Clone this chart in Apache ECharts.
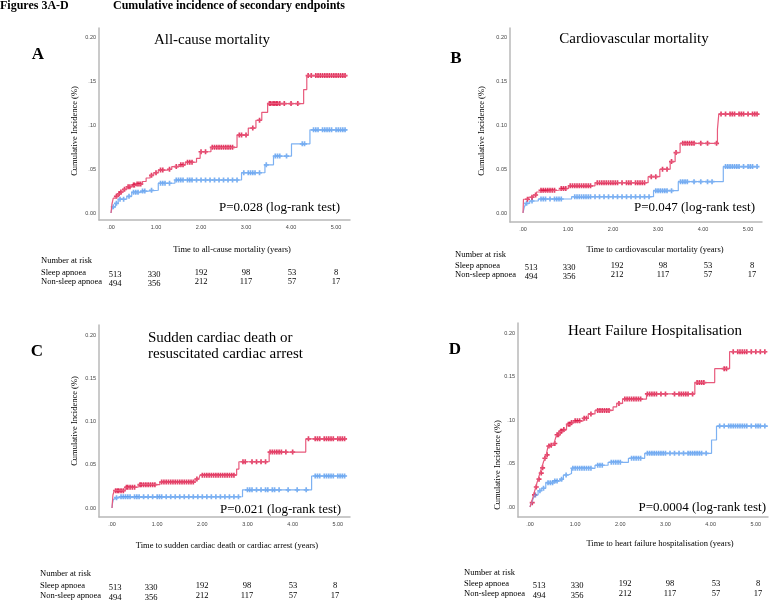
<!DOCTYPE html>
<html>
<head>
<meta charset="utf-8">
<script src="https://cdn.jsdelivr.net/npm/echarts@6/dist/echarts.min.js"></script>
<style>html,body{margin:0;padding:0;background:#fff}#main{width:771px;height:601px}</style>
</head>
<body>
<div id="main"></div>
<script>
var myChart = echarts.init(document.getElementById('main'));

// ---- data (time in years, cumulative incidence) ----
// A: all-cause mortality
var aRedT = [0, 0.02, 0.05, 0.1, 0.15, 0.2, 0.27, 0.35, 0.45, 0.55, 0.7, 0.78, 0.87, 0.95, 1.05, 1.25, 1.35, 1.5, 1.65, 1.9, 1.98, 2.22, 2.8, 3.05, 3.22, 3.35, 3.48, 4.28, 4.35, 5.24];
var aRedY = [0, 0.010, 0.017, 0.019, 0.022, 0.024, 0.027, 0.030, 0.032, 0.033, 0.036, 0.040, 0.043, 0.046, 0.049, 0.050, 0.053, 0.055, 0.058, 0.0625, 0.070, 0.075, 0.089, 0.097, 0.106, 0.115, 0.125, 0.141, 0.157, 0.157];
var aBlueT = [0, 0.01, 0.04, 0.1, 0.16, 0.35, 0.46, 0.64, 0.83, 1.05, 1.42, 2.9, 3.42, 3.61, 4.01, 4.42, 5.24];
var aBlueY = [0, 0.003, 0.007, 0.011, 0.0157, 0.019, 0.0236, 0.025, 0.026, 0.034, 0.0377, 0.046, 0.055, 0.065, 0.079, 0.095, 0.095];
var aRedC = [0.12,0.18,0.22,0.3,0.38,0.42,0.5,0.52,0.58,0.62,0.66,0.9,1.0,1.1,1.15,1.3,1.45,1.55,1.6,1.7,1.75,1.8,2.0,2.1,2.25,2.3,2.35,2.4,2.45,2.5,2.55,2.6,2.65,2.7,2.85,2.9,3.0,3.15,3.3,3.52,3.55,3.6,3.63,3.67,3.7,3.75,3.85,4.0,4.15,4.38,4.45,4.55,4.6,4.65,4.7,4.75,4.8,4.85,4.9,4.95,5.0,5.05,5.1,5.15,5.2];
var aBlueC = [0.05,0.12,0.2,0.28,0.4,0.5,0.55,0.6,0.7,0.75,0.9,1.1,1.15,1.2,1.3,1.45,1.5,1.55,1.6,1.7,1.75,1.8,1.9,2.0,2.1,2.2,2.3,2.4,2.5,2.6,2.7,2.8,2.95,3.05,3.1,3.15,3.2,3.3,3.45,3.65,3.7,3.75,3.9,4.25,4.3,4.5,4.55,4.6,4.7,4.75,4.8,4.85,4.9,5.0,5.05,5.1,5.15,5.2];

// B: cardiovascular mortality
var bRedT = [0, 0.01, 0.12, 0.23, 0.3, 0.37, 0.78, 1.01, 1.6, 2.78, 3.04, 3.27, 3.38, 3.49, 4.32, 4.35, 5.23];
var bRedY = [0, 0.0157, 0.018, 0.0206, 0.024, 0.026, 0.028, 0.031, 0.0346, 0.0415, 0.050, 0.0587, 0.069, 0.0796, 0.0956, 0.113, 0.113];
var bBlueT = [0, 0.03, 0.07, 0.15, 0.34, 1.08, 2.9, 3.45, 4.45, 5.23];
var bBlueY = [0, 0.007, 0.011, 0.0137, 0.016, 0.0186, 0.0255, 0.0358, 0.053, 0.053];
var bRedC = [0.1,0.2,0.28,0.4,0.45,0.5,0.55,0.6,0.65,0.7,0.85,0.9,0.95,1.05,1.1,1.15,1.2,1.25,1.3,1.35,1.4,1.45,1.5,1.65,1.7,1.75,1.8,1.85,1.9,1.95,2.0,2.05,2.1,2.2,2.3,2.35,2.4,2.5,2.55,2.6,2.65,2.7,2.85,2.95,3.1,3.2,3.3,3.4,3.55,3.6,3.65,3.7,3.75,3.8,3.95,4.1,4.3,4.4,4.5,4.6,4.65,4.7,4.8,4.85,4.9,5.0,5.1,5.15,5.2];
var bBlueC = [0.08,0.2,0.4,0.45,0.5,0.6,0.7,0.75,0.8,0.85,1.15,1.2,1.25,1.3,1.35,1.4,1.45,1.5,1.6,1.7,1.8,1.9,2.0,2.1,2.2,2.3,2.4,2.5,2.6,2.7,2.8,2.95,3.0,3.05,3.1,3.15,3.2,3.3,3.5,3.55,3.6,3.65,3.8,3.95,4.1,4.2,4.5,4.55,4.6,4.65,4.7,4.75,4.8,4.9,5.0,5.05,5.1,5.2];

// C: sudden cardiac death or resuscitated cardiac arrest
var cRedT = [0, 0.02, 0.05, 0.29, 0.58, 1.06, 1.84, 1.92, 1.95, 2.76, 2.81, 3.48, 4.29, 5.19];
var cRedY = [0, 0.015, 0.020, 0.024, 0.027, 0.030, 0.0335, 0.035, 0.038, 0.045, 0.0535, 0.0647, 0.080, 0.080];
var cBlueT = [0, 0.01, 0.03, 0.06, 0.14, 2.89, 4.42, 5.19];
var cBlueY = [0, 0.005, 0.010, 0.012, 0.013, 0.021, 0.037, 0.037];
var cRedC = [0.08,0.12,0.15,0.2,0.25,0.32,0.35,0.4,0.45,0.5,0.62,0.65,0.7,0.75,0.8,0.85,0.9,0.95,1.1,1.15,1.2,1.25,1.3,1.35,1.4,1.45,1.5,1.55,1.6,1.65,1.7,1.75,1.8,1.88,2.0,2.05,2.1,2.15,2.2,2.25,2.3,2.35,2.4,2.45,2.5,2.55,2.6,2.65,2.7,2.9,2.95,3.1,3.2,3.3,3.4,3.5,3.55,3.6,3.65,3.7,3.75,3.85,4.0,4.35,4.5,4.55,4.6,4.7,4.75,4.8,4.85,4.9,5.0,5.05,5.1,5.15];
var cBlueC = [0.1,0.2,0.25,0.3,0.35,0.4,0.5,0.55,0.6,0.7,0.8,0.9,1.0,1.05,1.1,1.2,1.3,1.4,1.5,1.6,1.7,1.8,1.9,2.0,2.1,2.2,2.3,2.4,2.5,2.6,2.7,2.8,3.0,3.05,3.1,3.2,3.3,3.4,3.45,3.55,3.6,3.7,3.9,4.1,4.3,4.5,4.55,4.6,4.7,4.75,4.8,4.85,4.9,5.0,5.05,5.1,5.15];

// D: heart failure hospitalisation
var dRedT = [0, 0.03, 0.06, 0.08, 0.11, 0.13, 0.15, 0.18, 0.22, 0.26, 0.30, 0.33, 0.36, 0.40, 0.45, 0.52, 0.56, 0.59, 0.66, 0.75, 0.81, 0.9, 0.96, 1.18, 1.29, 1.44, 1.84, 1.92, 2.05, 2.58, 3.65, 4.09, 4.42, 5.24];
var dRedY = [0, 0.005, 0.010, 0.014, 0.0195, 0.023, 0.027, 0.032, 0.039, 0.045, 0.052, 0.056, 0.060, 0.070, 0.071, 0.073, 0.078, 0.083, 0.087, 0.089, 0.095, 0.097, 0.099, 0.102, 0.107, 0.111, 0.115, 0.119, 0.124, 0.130, 0.143, 0.159, 0.1785, 0.1785];
var dBlueT = [0, 0.03, 0.06, 0.1, 0.18, 0.26, 0.35, 0.52, 0.66, 0.74, 0.85, 0.92, 1.44, 1.73, 2.18, 2.54, 4.02, 4.13, 5.27];
var dBlueY = [0, 0.004, 0.008, 0.0138, 0.0187, 0.0215, 0.028, 0.030, 0.032, 0.0368, 0.0385, 0.0445, 0.048, 0.0514, 0.056, 0.0617, 0.077, 0.093, 0.093];
var dRedC = [0.05,0.1,0.14,0.2,0.25,0.28,0.33,0.38,0.42,0.47,0.55,0.6,0.63,0.68,0.7,0.75,0.85,0.88,0.92,1.0,1.05,1.1,1.2,1.25,1.35,1.5,1.55,1.6,1.65,1.7,1.75,1.97,2.1,2.15,2.2,2.25,2.3,2.35,2.4,2.45,2.6,2.65,2.7,2.75,2.8,2.9,3.0,3.2,3.3,3.35,3.4,3.45,3.5,3.6,3.7,3.75,3.8,3.85,4.3,4.35,4.5,4.6,4.65,4.7,4.75,4.8,4.9,5.0,5.1,5.2];
var dBlueC = [0.12,0.22,0.3,0.4,0.45,0.5,0.55,0.6,0.7,0.8,0.95,1.0,1.05,1.1,1.15,1.2,1.25,1.3,1.35,1.5,1.55,1.6,1.8,1.85,1.9,1.95,2.0,2.25,2.3,2.35,2.4,2.45,2.6,2.65,2.7,2.75,2.8,2.85,2.9,2.95,3.0,3.1,3.2,3.3,3.4,3.5,3.55,3.6,3.65,3.7,3.75,3.8,3.9,4.2,4.3,4.4,4.45,4.5,4.55,4.6,4.65,4.7,4.75,4.8,4.9,5.0,5.05,5.1,5.2];

// number at risk (same in every panel)
var riskSleep = [513, 330, 192, 98, 53, 8];
var riskNon = [494, 356, 212, 117, 57, 17];

var xTicks = [0, 1, 2, 3, 4, 5];
var yTicks = [0, 0.05, 0.10, 0.15, 0.20];
var yTickLabels = [
	['0.00', '.05', '.10', '.15', '0.20'],
	['0.00', '0.05', '0.10', '0.15', '0.20'],
	['0.00', '0.05', '0.10', '0.15', '0.20'],
	['.00', '.05', '.10', '0.15', '0.20']
];

var panelTitles = ['All-cause mortality', 'Cardiovascular mortality', 'Sudden cardiac death or\nresuscitated cardiac arrest', 'Heart Failure Hospitalisation'];
var panelLetters = ['A', 'B', 'C', 'D'];
var pTexts = ['P=0.028 (log-rank test)', 'P=0.047 (log-rank test)', 'P=0.021 (log-rank test)', 'P=0.0004 (log-rank test)'];
var xTitles = ['Time to all-cause mortality (years)', 'Time to cardiovascular mortality (years)', 'Time to sudden cardiac death or cardiac arrest (years)', 'Time to heart failure hospitalisation (years)'];

var curves = [
	[aRedT, aRedY, aRedC, aBlueT, aBlueY, aBlueC],
	[bRedT, bRedY, bRedC, bBlueT, bBlueY, bBlueC],
	[cRedT, cRedY, cRedC, cBlueT, cBlueY, cBlueC],
	[dRedT, dRedY, dRedC, dBlueT, dBlueY, dBlueC]
];

// ---- layout ----
var RED = '#dc1242', RED_LINE = '#e85a7c';
var BLUE = '#5a9cef', BLUE_LINE = '#7db1f2';
var SERIF = '"Liberation Serif", "DejaVu Serif", serif';
var grids = [
	{left: 99, top: 28, width: 251, height: 192},
	{left: 510, top: 28, width: 252, height: 194},
	{left: 99, top: 325, width: 251, height: 192},
	{left: 518, top: 323, width: 250, height: 194}
];
var xRange = [[-0.267, 5.31], [-0.289, 5.31], [-0.288, 5.27], [-0.265, 5.27]];
var yRange = [[-0.008, 0.2114], [-0.0103, 0.2114], [-0.0104, 0.2116], [-0.0115, 0.2115]];
// "+" censor mark
var plusSym = 'path://M2,0H4V2H6V4H4V6H2V4H0V2H2Z';

function stepAt(T, Y, t) {
	var v = Y[0];
	for (var i = 0; i < T.length; i++) {
		if (T[i] <= t) v = Y[i];
	}
	return v;
}

var xAxes = [], yAxes = [], series = [];
for (var p = 0; p < 4; p++) {
	(function (p) {
		xAxes.push({
			type: 'value', gridIndex: p, min: xRange[p][0], max: xRange[p][1],
			axisLine: {show: true, onZero: false, lineStyle: {color: '#b8b8b8', width: 1.5}},
			axisTick: {show: false}, splitLine: {show: false},
			axisLabel: {
				customValues: xTicks, margin: 4, fontSize: 5.5, color: '#444', fontFamily: 'Liberation Sans',
				formatter: function (v) { return v === 0 ? '.00' : v.toFixed(2); }
			}
		});
		yAxes.push({
			type: 'value', gridIndex: p, min: yRange[p][0], max: yRange[p][1],
			axisLine: {show: true, onZero: false, lineStyle: {color: '#b8b8b8', width: 1.5}},
			axisTick: {show: false}, splitLine: {show: false},
			axisLabel: {
				customValues: yTicks, margin: 3, fontSize: 5.5, color: '#444', fontFamily: 'Liberation Sans',
				formatter: function (v) { return yTickLabels[p][Math.round(v * 20)]; }
			}
		});
		var c = curves[p];
		var groups = [[c[3], c[4], c[5], BLUE, BLUE_LINE], [c[0], c[1], c[2], RED, RED_LINE]];
		groups.forEach(function (g) {
			var T = g[0], Y = g[1], C = g[2];
			var line = T.map(function (t, i) { return [t, Y[i]]; });
			var cens = C.filter(function (t) { return t <= T[T.length - 1]; })
				.map(function (t) { return [t, stepAt(T, Y, t)]; });
			series.push({
				type: 'line', xAxisIndex: p, yAxisIndex: p, step: 'end', data: line,
				showSymbol: false, lineStyle: {color: g[4], width: 1.2}, silent: true
			});
			series.push({
				type: 'scatter', xAxisIndex: p, yAxisIndex: p, data: cens,
				symbol: plusSym, symbolSize: 5, itemStyle: {color: g[3]}, silent: true
			});
		});
	})(p);
}

// ---- texts ----
var gfx = [];
function txt(x, y, s, size, opt) {
	opt = opt || {};
	gfx.push({
		type: 'text', x: x, y: y, rotation: opt.rot || 0, silent: true,
		style: {
			text: s, fill: '#000', fontSize: size, fontFamily: SERIF,
			fontWeight: opt.bold ? 'bold' : 'normal',
			align: opt.align || 'left', verticalAlign: 'middle', lineHeight: opt.lh
		}
	});
}
txt(0, 6, 'Figures 3A-D', 12, {bold: true});
txt(113, 6, 'Cumulative incidence of secondary endpoints', 12, {bold: true});

var letterPos = [[38, 55], [456, 59], [37, 352], [455, 350]];
var titlePos = [[212, 40, 'center'], [634, 39, 'center'], [148, 346, 'left'], [655, 331, 'center']];
var pPos = [[340, 208], [755, 208], [341, 510], [766, 508]];
var yTitlePos = [[75, 131], [482, 131], [74.5, 421], [498, 465]];
var xTitlePos = [[232, 250], [655, 250], [227, 546], [660, 544]];
// number at risk table: label x, heading y, row y's, column centres
var tablePos = [
	{lx: 41, y0: 261, y1: 273, y2: 282, cols: [115, 154, 201, 246, 292, 336]},
	{lx: 455, y0: 255, y1: 266, y2: 275, cols: [531, 569, 617, 663, 708, 752]},
	{lx: 40, y0: 574, y1: 586, y2: 596, cols: [115, 151, 202, 247, 293, 335]},
	{lx: 464, y0: 573, y1: 584, y2: 594, cols: [539, 577, 625, 670, 716, 758]}
];

for (var k = 0; k < 4; k++) {
	txt(letterPos[k][0], letterPos[k][1], panelLetters[k], 17, {bold: true, align: 'center'});
	txt(titlePos[k][0], titlePos[k][1], panelTitles[k], 15, {align: titlePos[k][2], lh: 16});
	txt(pPos[k][0], pPos[k][1], pTexts[k], 13, {align: 'right'});
	txt(yTitlePos[k][0], yTitlePos[k][1], 'Cumulative Incidence (%)', 8.5, {align: 'center', rot: Math.PI / 2});
	txt(xTitlePos[k][0], xTitlePos[k][1], xTitles[k], 8.5, {align: 'center'});
	var tp = tablePos[k];
	txt(tp.lx, tp.y0, 'Number at risk', 8.5);
	txt(tp.lx, tp.y1, 'Sleep apnoea', 8.5);
	txt(tp.lx, tp.y2, 'Non-sleep apnoea', 8.5);
	for (var j = 0; j < riskSleep.length; j++) {
		var dy = j < 2 ? 1.5 : 0;
		txt(tp.cols[j], tp.y1 + dy, String(riskSleep[j]), 8.5, {align: 'center'});
		txt(tp.cols[j], tp.y2 + dy, String(riskNon[j]), 8.5, {align: 'center'});
	}
}

var option = {
	animation: false,
	backgroundColor: '#fff',
	grid: grids,
	xAxis: xAxes,
	yAxis: yAxes,
	series: series,
	graphic: gfx
};
myChart.setOption(option);
</script>
</body>
</html>
